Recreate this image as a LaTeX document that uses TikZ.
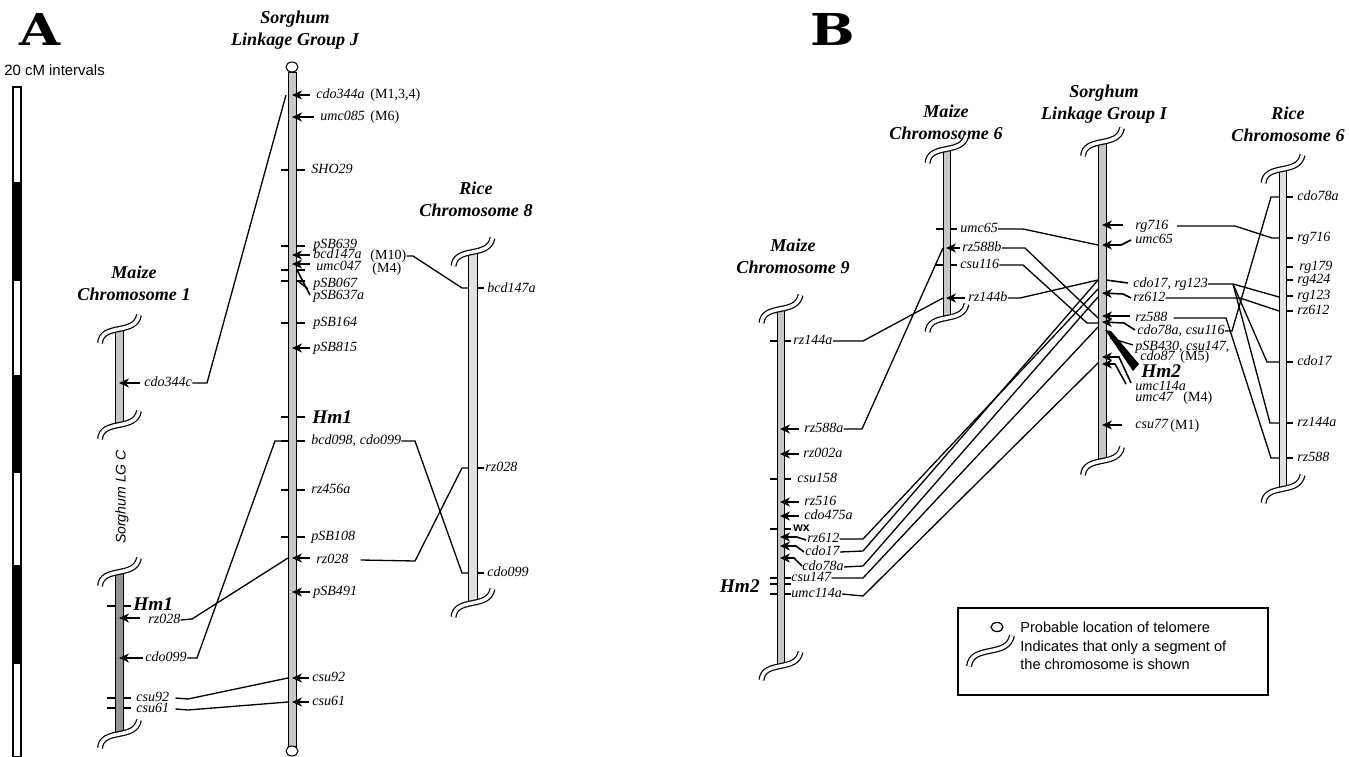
\documentclass[tikz,border=0pt]{standalone}
\usepackage{fontspec}
\setmainfont{Liberation Serif}
\setsansfont{Liberation Sans}
\newfontfamily\slabfont{DejaVu Serif}
\usetikzlibrary{arrows.meta, calc}

\begin{document}
\begin{tikzpicture}[x=0.02cm, y=-0.02cm, >={Stealth[length=2mm, width=1.8mm, inset=0.6mm]},
  bar/.style={draw, line width=0.55pt, fill=black!22},
  darkbar/.style={bar, fill=black!42},
  palebar/.style={bar, fill=black!12},
  mk/.style={<-, line width=0.9pt},
  tk/.style={line width=0.9pt},
  conn/.style={line width=0.75pt},
  mlab/.style={font=\fontsize{8}{9}\selectfont\itshape, inner sep=0pt, anchor=west, text height=5.5pt, text depth=1.5pt},
  mrom/.style={font=\fontsize{8}{9}\selectfont, inner sep=0pt, anchor=west, text height=5.5pt, text depth=1.5pt},
  ttl/.style={font=\fontsize{10.3}{12.5}\selectfont\bfseries\itshape, align=center},
  hm/.style={font=\fontsize{11}{12}\selectfont\bfseries\itshape, inner sep=0pt, anchor=west},
  panel/.style={font=\fontsize{25}{25}\selectfont\slabfont\bfseries, inner sep=0pt},
  legtxt/.style={font=\fontsize{8.3}{10}\selectfont\sffamily, anchor=west, inner sep=0pt, align=left},
  brk/.pic={\draw[double, double distance=2pt, line width=0.7pt] (-19,13) .. controls (-18,3) and (-10,1) .. (0,-1) .. controls (10,-3) and (18,-5) .. (20,-15);}
]
  \useasboundingbox (0,0) rectangle (1349,757);

  % ---------------- panel A ----------------
  \node[panel] (pA) at (40,29) {\scalebox{1.2}[1]{A}};
  \node[legtxt, font=\fontsize{8.5}{10}\selectfont\sffamily] (scl) at (4,70) {20 cM intervals};
  \foreach \ya/\yb/\fc in {87/183/white, 183/280/black, 280/376/white, 376/472/black, 472/566/white, 566/663/black, 663/757/white}
    \draw[line width=0.6pt, fill=\fc] (13,\ya) rectangle (21,\yb);

  % sorghum linkage group J
  \node[ttl] (ttlJ) at (295,30) {Sorghum\\Linkage Group J};
  \foreach \y in {170,246,270,281,323,417,441,490,537}
    \draw[tk] (281,\y) -- (305,\y);
  \draw[bar] (288,72) rectangle (296,746);
  \draw[line width=0.6pt, fill=white] (292,67) ellipse [x radius=6, y radius=5];
  \draw[line width=0.6pt, fill=white] (292,751) ellipse [x radius=6, y radius=5];
  \draw[mk] (292,95) -- (310,95);
  \node[mlab] (jcdo344a) at (316,95) {cdo344a};
  \node[mrom] (jm134) at (370,95) {(M1,3,4)};
  \draw[mk] (292,117) -- (314,117);
  \node[mlab] (jumc085) at (320,117) {umc085};
  \node[mrom] (jm6) at (370,117) {(M6)};
  \node[mlab] (jsho29) at (311,170) {SHO29};
  \node[mlab] (jpsb639) at (313,245) {pSB639};
  \draw[mk] (292,255) -- (310,255);
  \node[mlab] (jbcd147a) at (313,255) {bcd147a};
  \node[mrom] (jm10) at (370,256) {(M10)};
  \draw[mk] (292,264) -- (310,264);
  \node[mlab] (jumc047) at (316,267) {umc047};
  \node[mrom] (jm4) at (372,269) {(M4)};
  \draw[tk] (297,270) -- (310,295);
  \draw[tk] (298,281) -- (308,289);
  \node[mlab] (jpsb067) at (313,284) {pSB067};
  \node[mlab] (jpsb637a) at (313,296) {pSB637a};
  \node[mlab] (jpsb164) at (313,323) {pSB164};
  \draw[mk] (292,348) -- (310,348);
  \node[mlab] (jpsb815) at (313,348) {pSB815};
  \node[hm] (jhm1) at (312,417) {Hm1};
  \node[mlab] (jbcd098) at (311,441) {bcd098, cdo099};
  \node[mlab] (jrz456a) at (311,490) {rz456a};
  \node[mlab] (jpsb108) at (311,537) {pSB108};
  \draw[mk] (292,558) -- (310,558);
  \node[mlab] (jrz028) at (316,560) {rz028};
  \draw[mk] (292,592) -- (310,592);
  \node[mlab] (jpsb491) at (313,592) {pSB491};
  \draw[mk] (292,678) -- (309,678);
  \node[mlab] (jcsu92) at (312,678) {csu92};
  \draw[mk] (292,702) -- (309,702);
  \node[mlab] (jcsu61) at (312,702) {csu61};

  % maize chromosome 1
  \node[ttl] (ttlM1) at (134,283) {Maize\\Chromosome 1};
  \draw[bar] (115,330) rectangle (123,426);
  \pic at (119,330) {brk};
  \pic at (119,426) {brk};
  \draw[mk] (119,383) -- (140,383);
  \node[mlab] (m1cdo344c) at (144,383) {cdo344c};

  % sorghum LG C
  \node[rotate=90, font=\fontsize{8}{10}\selectfont\sffamily\itshape] (lgc) at (122,497) {Sorghum LG C};
  \foreach \y in {606,698,708}
    \draw[tk] (107,\y) -- (131,\y);
  \draw[darkbar] (115,573) rectangle (123,735);
  \pic at (119,573) {brk};
  \pic at (119,735) {brk};
  \node[hm] (chm1) at (133,604) {Hm1};
  \draw[mk] (119,618) -- (140,618);
  \node[mlab] (crz028) at (148,620) {rz028};
  \draw[mk] (119,658) -- (143,658);
  \node[mlab] (ccdo099) at (145,658) {cdo099};
  \node[mlab] (ccsu92) at (136,698) {csu92};
  \node[mlab] (ccsu61) at (136,709) {csu61};

  % rice chromosome 8
  \node[ttl] (ttlR8) at (476,199) {Rice\\Chromosome 8};
  \foreach \y in {288,468,573}
    \draw[tk] (472,\y) -- (484,\y);
  \draw[palebar] (468,253) rectangle (477,604);
  \pic at (472.5,253) {brk};
  \pic at (472.5,604) {brk};
  \node[mlab] (r8bcd147a) at (487,289) {bcd147a};
  \node[mlab] (r8rz028) at (485,468) {rz028};
  \node[mlab] (r8cdo099) at (487,573) {cdo099};

  % links of panel A
  \draw[conn] (m1cdo344c.east) -- (207,383) -- (286,95);
  \draw[conn] (jm10.east) -- (413,256) -- (462,288) -- (468,288);
  \draw[conn] (jbcd098.east) -- (415,441) -- (462,573) -- (468,573);
  \draw[conn] ($(jrz028.east)+(12,0)$) -- (415,561) -- (462,468) -- (468,468);
  \draw[conn] (288,441) -- (275,441) -- (197,658) -- (ccdo099.east);
  \draw[conn] (288,558) -- (192,619) -- (crz028.east);
  \draw[conn] ($(ccsu92.east)+(6,0)$) -- (188,699) -- (288,678);
  \draw[conn] ($(ccsu61.east)+(6,0)$) -- (188,710) -- (288,702);

  % ---------------- panel B ----------------
  \node[panel] (pB) at (833,29) {\scalebox{1.2}[1]{B}};

  % maize chromosome 6
  \node[ttl] (ttlM6) at (946,122) {Maize\\Chromosome 6};
  \foreach \y in {229,265}
    \draw[tk] (936,\y) -- (957,\y);
  \draw[bar] (943,150) rectangle (950,319);
  \pic at (946.5,150) {brk};
  \pic at (946.5,319) {brk};
  \node[mlab] (m6umc65) at (960,229) {umc65};
  \draw[mk] (946,248) -- (960,248);
  \node[mlab] (m6rz588b) at (962,248) {rz588b};
  \node[mlab] (m6csu116) at (960,265) {csu116};
  \draw[mk] (946,298) -- (965,298);
  \node[mlab] (m6rz144b) at (968,298) {rz144b};

  % maize chromosome 9
  \node[ttl] (ttlM9) at (793,256) {Maize\\Chromosome 9};
  \foreach \y in {341,479,529,578,584,594}
    \draw[tk] (770,\y) -- (791,\y);
  \draw[bar] (777,310) rectangle (784,667);
  \pic at (780.5,310) {brk};
  \pic at (780.5,667) {brk};
  \node[mlab] (m9rz144a) at (793,341) {rz144a};
  \draw[mk] (780,429) -- (799,429);
  \node[mlab] (m9rz588a) at (804,429) {rz588a};
  \draw[mk] (780,454) -- (799,454);
  \node[mlab] (m9rz002a) at (803,454) {rz002a};
  \node[mlab] (m9csu158) at (797,479) {csu158};
  \draw[mk] (780,502) -- (799,502);
  \node[mlab] (m9rz516) at (804,502) {rz516};
  \draw[mk] (780,516) -- (799,516);
  \node[mlab] (m9cdo475a) at (804,516) {cdo475a};
  \node[font=\fontsize{7}{8}\selectfont\sffamily\bfseries, inner sep=0pt, anchor=west] (m9wx) at (793,528) {wx};
  \draw[mk] (780,537) -- (797,537) -- (806,540);
  \node[mlab] (m9rz612) at (807,539) {rz612};
  \draw[mk] (780,546) -- (796,546) -- (804,552);
  \node[mlab] (m9cdo17) at (805,552) {cdo17};
  \draw[mk] (780,558) -- (794,558) -- (802,566);
  \node[mlab] (m9cdo78a) at (802,567) {cdo78a};
  \node[mlab] (m9csu147) at (791,578) {csu147};
  \node[hm, anchor=east] (m9hm2) at (760,586) {Hm2};
  \node[mlab] (m9umc114a) at (791,594) {umc114a};

  % sorghum linkage group I
  \node[ttl] (ttlI) at (1104,104) {Sorghum\\Linkage Group I};
  \draw[bar] (1098,143) rectangle (1106,462);
  \pic at (1102,143) {brk};
  \pic at (1102,462) {brk};
  \draw[mk] (1102,225) -- (1123,225);
  \node[mlab] (sirg716) at (1135,226) {rg716};
  \draw[mk] (1102,245) -- (1121,245) -- (1131,240);
  \node[mlab] (siumc65) at (1135,240) {umc65};
  \draw[tk] (1106,280) -- (1128,283);
  \node[mlab] (sicdo17) at (1133,284) {cdo17, rg123};
  \draw[mk] (1102,293) -- (1123,294) -- (1131,298);
  \node[mlab] (sirz612) at (1133,298) {rz612};
  \draw[mk] (1102,316) -- (1130,316);
  \node[mlab] (sirz588) at (1135,318) {rz588};
  \draw[mk] (1102,322) -- (1124,323) -- (1135,330);
  \node[mlab] (sicdo78a) at (1137,331) {cdo78a, csu116};
  \fill (1105,330) -- (1111,331) -- (1139,364) -- (1133,371) -- cycle;
  \draw[conn] (1110,338) -- (1133,345);
  \node[mlab] (sipsb430) at (1135,347) {pSB430, csu147,};
  \node[mlab] (sicdo87) at (1140,357) {cdo87};
  \node[mrom] (sim5) at (1180,357) {(M5)};
  \node[hm] (sihm2) at (1141,371) {Hm2};
  \draw[mk] (1102,357) -- (1119,357) -- (1131,383);
  \draw[mk] (1102,364) -- (1115,364) -- (1126,384);
  \node[mlab] (siumc114a) at (1135,387) {umc114a};
  \node[mlab] (siumc47) at (1135,398) {umc47};
  \node[mrom] (sim4) at (1183,398) {(M4)};
  \draw[mk] (1102,425) -- (1122,425);
  \node[mlab] (sicsu77) at (1135,425) {csu77};
  \node[mrom] (sim1) at (1170,426) {(M1)};

  % rice chromosome 6
  \node[ttl] (ttlR6) at (1288,124) {Rice\\Chromosome 6};
  \foreach \y in {197,238,267,280,296,311,362,423,458}
    \draw[tk] (1283,\y) -- (1293,\y);
  \draw[palebar] (1279,170) rectangle (1286,490);
  \pic at (1282.5,170) {brk};
  \pic at (1282.5,490) {brk};
  \node[mlab] (r6cdo78a) at (1297,197) {cdo78a};
  \node[mlab] (r6rg716) at (1297,238) {rg716};
  \node[mlab] (r6rg179) at (1299,267) {rg179};
  \node[mlab] (r6rg424) at (1297,280) {rg424};
  \node[mlab] (r6rg123) at (1297,296) {rg123};
  \node[mlab] (r6rz612) at (1297,311) {rz612};
  \node[mlab] (r6cdo17) at (1297,362) {cdo17};
  \node[mlab] (r6rz144a) at (1297,423) {rz144a};
  \node[mlab] (r6rz588) at (1297,458) {rz588};

  % links of panel B
  \draw[conn] (m6umc65.east) -- (1023,229) -- (1098,245);
  \draw[conn] (m6rz588b.east) -- (1025,248) -- (1098,318);
  \draw[conn] (m6csu116.east) -- (1023,265) -- (1087,323) -- (1098,323);
  \draw[conn] (m6rz144b.east) -- (1020,298) -- (1098,280);
  \draw[conn] (943,298) -- (863,341) -- (m9rz144a.east);
  \draw[conn] (943,248) -- (862,429) -- (m9rz588a.east);
  \draw[conn] (m9rz612.east) -- (863,539) -- (1098,289);
  \draw[conn] (m9cdo17.east) -- (863,551) -- (1098,280);
  \draw[conn] (m9cdo78a.east) -- (863,566) -- (1098,297);
  \draw[conn] (m9csu147.east) -- (863,578) -- (1098,327);
  \draw[conn] (m9umc114a.east) -- (863,596) -- (1098,363);
  \draw[conn] ($(sirg716.east)+(8,0)$) -- (1235,226) -- (1272,238) -- (1279,238);
  \draw[conn] (sicdo17.east) -- (1233,284) -- (1279,297);
  \draw[conn] (1233,284) -- (1267,362) -- (1279,362);
  \draw[conn] (1233,284) -- (1270,423) -- (1279,423);
  \draw[conn] (sirz612.east) -- (1240,298) -- (1279,311);
  \draw[conn] ($(sirz588.east)+(6,0)$) -- (1226,318) -- (1271,458) -- (1279,458);
  \draw[conn] (sicdo78a.east) -- (1232,331) -- (1271,197) -- (1279,197);

  % legend
  \draw[line width=0.8pt] (958,608) rectangle (1268,695);
  \draw[line width=0.7pt] (997,627) ellipse [x radius=6, y radius=4.5];
  \node[legtxt] (legtel) at (1020,627) {Probable location of telomere};
  \pic[scale=1.1] at (990,652) {brk};
  \node[legtxt] (legseg) at (1020,655) {Indicates that only a segment of\\the chromosome is shown};
\end{tikzpicture}
\end{document}
